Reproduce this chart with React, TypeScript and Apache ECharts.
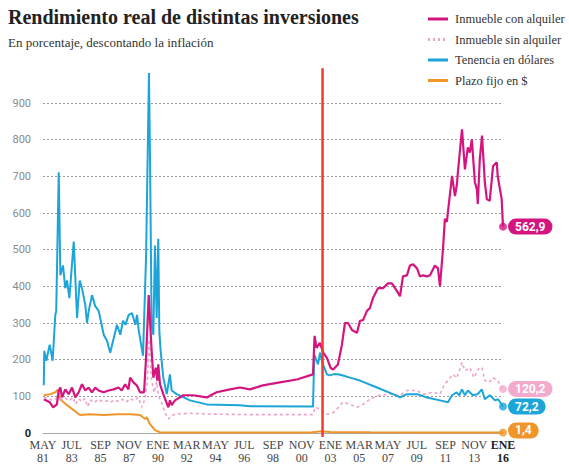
import React, { useEffect, useRef } from "react";
import * as echarts from "echarts";

// ---- DATA (decimal year, value in %) ----
const START = 1981 + 4 / 12; // MAY 81
const tickLabels = [
  "MAY\n81", "JUL\n83", "SEP\n85", "NOV\n87", "ENE\n90", "MAR\n92", "MAY\n94", "JUL\n96", "SEP\n98",
  "NOV\n00", "ENE\n03", "MAR\n05", "MAY\n07", "JUL\n09", "SEP\n11", "NOV\n13", "ENE\n16",
];
const yTicks = [0, 100, 200, 300, 400, 500, 600, 700, 800, 900];
const redLineDate = 2002.4;

const conAlquiler: [number, number][] = [
  [1981.39, 92], [1981.84, 84], [1982.1, 70], [1982.38, 78], [1982.52, 116], [1982.64, 124], [1982.77, 97],
  [1983.01, 119], [1983.27, 106], [1983.52, 124], [1983.77, 97], [1984.02, 111], [1984.27, 133], [1984.52, 116],
  [1984.77, 124], [1985.02, 111], [1985.27, 124], [1985.52, 116], [1985.9, 111], [1986.27, 116], [1986.65, 119],
  [1987.02, 124], [1987.27, 116], [1987.52, 133], [1987.77, 119], [1987.9, 151], [1988.15, 138], [1988.4, 130],
  [1988.65, 111], [1988.95, 111], [1989.1, 205], [1989.3, 376], [1989.52, 224], [1989.65, 151], [1989.83, 178],
  [1989.95, 143], [1990.02, 187], [1990.15, 133], [1990.4, 106], [1990.78, 70], [1990.9, 89], [1991.03, 76],
  [1991.28, 89], [1991.9, 103], [1992.65, 103], [1993.67, 97], [1994.42, 111], [1995.42, 119], [1996.18, 124],
  [1996.93, 119], [1997.9, 130], [1999.18, 138], [2000.46, 146], [2001.68, 160], [2001.8, 265], [2001.95, 232],
  [2002.2, 246], [2002.45, 219], [2002.73, 205], [2003.0, 178], [2003.2, 173], [2003.56, 187], [2003.86, 241],
  [2004.09, 300], [2004.32, 300], [2004.62, 281], [2004.99, 273], [2005.22, 306], [2005.45, 308], [2005.75, 333],
  [2005.97, 341], [2006.2, 368], [2006.58, 395], [2006.96, 395], [2007.33, 408], [2007.63, 408], [2008.01, 387],
  [2008.24, 373], [2008.46, 427], [2008.76, 430], [2008.99, 457], [2009.22, 460], [2009.52, 449], [2009.74, 427],
  [2009.97, 430], [2010.27, 427], [2010.5, 430], [2010.87, 457], [2011.1, 449], [2011.25, 400], [2011.48, 503],
  [2011.62, 584], [2011.77, 576], [2011.85, 603], [2012.16, 701], [2012.38, 646], [2012.53, 679], [2012.6, 711],
  [2012.91, 828], [2013.13, 719], [2013.35, 779], [2013.5, 765], [2013.65, 801], [2013.88, 684], [2014.03, 665],
  [2014.1, 625], [2014.25, 746], [2014.42, 811], [2014.63, 684], [2014.78, 638], [2015.0, 633], [2015.25, 728],
  [2015.53, 738], [2015.6, 701], [2015.77, 665], [2015.9, 638], [2016.0, 562.9],
];

const sinAlquiler: [number, number][] = [
  [1981.39, 98], [1981.7, 95], [1982.0, 90], [1982.3, 93], [1982.52, 98], [1982.8, 90], [1983.0, 95],
  [1983.3, 88], [1983.6, 97], [1983.8, 78], [1984.0, 93], [1984.3, 86], [1984.5, 95], [1984.7, 72],
  [1984.9, 90], [1985.2, 83], [1985.5, 92], [1985.8, 86], [1986.1, 88], [1986.4, 83], [1986.7, 90],
  [1987.0, 86], [1987.3, 92], [1987.6, 84], [1987.9, 94], [1988.2, 88], [1988.5, 97], [1988.8, 70],
  [1989.0, 92], [1989.2, 140], [1989.32, 255], [1989.5, 150], [1989.7, 110], [1989.9, 140], [1990.05, 100],
  [1990.3, 80], [1990.6, 50], [1990.8, 38], [1991.0, 48], [1991.5, 52], [1992.5, 54], [1993.5, 52],
  [1995.0, 51], [1997.0, 50], [1999.0, 50], [2001.68, 50], [2001.85, 70], [2002.2, 65], [2002.7, 51],
  [2003.19, 55], [2003.6, 70], [2003.94, 84], [2004.47, 78], [2004.99, 70], [2005.45, 78], [2005.97, 92],
  [2006.7, 103], [2007.5, 106], [2008.24, 103], [2008.76, 116], [2009.5, 116], [2009.97, 106], [2010.7, 111],
  [2011.25, 106], [2011.6, 133], [2011.85, 143], [2012.23, 160], [2012.5, 150], [2012.76, 175], [2012.91, 192],
  [2013.13, 170], [2013.5, 178], [2013.8, 151], [2014.2, 178], [2014.42, 178], [2014.63, 143], [2014.95, 138],
  [2015.25, 151], [2015.6, 143], [2015.77, 133], [2016.0, 120.2],
];

const tenenciaDolares: [number, number][] = [
  [1981.39, 130], [1981.43, 224], [1981.58, 197], [1981.84, 241], [1982.06, 197], [1982.26, 322], [1982.33, 333],
  [1982.52, 711], [1982.64, 430], [1982.84, 457], [1983.01, 395], [1983.14, 416], [1983.32, 368], [1983.65, 522],
  [1983.9, 314], [1984.1, 416], [1984.27, 395], [1984.52, 349], [1984.65, 300], [1984.78, 333], [1985.03, 376],
  [1985.27, 346], [1985.53, 333], [1985.91, 268], [1986.16, 251], [1986.4, 219], [1986.61, 251], [1986.91, 295],
  [1987.16, 268], [1987.36, 306], [1987.54, 295], [1987.79, 322], [1988.04, 327], [1988.29, 295], [1988.42, 322],
  [1988.55, 279], [1988.87, 211], [1989.1, 480], [1989.32, 982], [1989.4, 746], [1989.52, 295], [1989.65, 268],
  [1989.77, 511], [1989.9, 314], [1990.02, 530], [1990.1, 279], [1990.2, 224], [1990.4, 151], [1990.66, 106],
  [1990.9, 160], [1991.03, 116], [1991.41, 106], [1992.41, 89], [1993.67, 78], [1996.18, 76], [1996.93, 73],
  [2001.68, 72], [2001.78, 214], [2002.06, 187], [2002.21, 219], [2002.43, 187], [2002.73, 160], [2002.96, 157],
  [2003.19, 160], [2003.56, 160], [2003.94, 157], [2004.47, 151], [2005.22, 143], [2006.5, 124], [2007.71, 106],
  [2008.24, 97], [2008.76, 106], [2009.52, 106], [2010.27, 97], [2011.25, 89], [2011.85, 84], [2012.16, 103],
  [2012.5, 111], [2012.7, 103], [2012.91, 119], [2013.13, 103], [2013.35, 116], [2013.73, 103], [2014.1, 106],
  [2014.4, 119], [2014.63, 92], [2015.0, 103], [2015.4, 89], [2015.63, 92], [2016.0, 72.2],
];

const plazoFijo: [number, number][] = [
  [1981.39, 103], [1981.88, 106], [1982.26, 111], [1982.45, 118], [1982.64, 92], [1983.14, 76], [1983.65, 62],
  [1984.12, 49], [1984.9, 51], [1985.91, 49], [1986.91, 51], [1987.9, 51], [1988.65, 49], [1989.04, 38],
  [1989.15, 43], [1989.4, 24], [1989.77, 8], [1990.15, 1.5], [1991.0, 1.5], [1995.0, 1.5], [2001.5, 1.5],
  [2002.3, 4.5], [2003.0, 3], [2006.0, 2], [2010.0, 1.5], [2016.0, 1.4],
];

const toIdx = (yr: number) => (yr - START) * 12;
const conv = (arr: [number, number][]) => arr.map(([y, v]) => [toIdx(y), v]);
const fmt = (v: number) => v.toFixed(1).replace(".", ",");

const C_PINK = "#d5157f";
const C_PINK_L = "#eba3c8";
const C_PINK_PILL = "#f3aacd";
const C_BLUE = "#1ba5d8";
const C_ORANGE = "#f0952a";
const SERIF = "'Liberation Serif', 'DejaVu Serif', serif";
const SANS = "Roboto, 'Noto Sans', sans-serif";

export default function App() {
  const ref = useRef<HTMLDivElement>(null);
  useEffect(() => {
    document.body.style.margin = "0";
    const chart = echarts.init(ref.current!, null, { renderer: "svg" });

    const mkEndLabel = (bg: string, dy: number) => ({
      show: true,
      formatter: (p: any) => fmt(p.value[1]),
      backgroundColor: bg,
      color: "#fff",
      fontFamily: SANS,
      fontWeight: "bold",
      fontSize: 12,
      padding: [2, 7, 2, 7],
      borderRadius: 9,
      distance: 5,
      offset: [0, dy],
    });

    const lineBase = {
      type: "line",
      showSymbol: false,
      symbol: "none",
      clip: false,
      smooth: false,
    };

    const series: any[] = [
      {
        ...lineBase,
        name: "Plazo fijo en $",
        data: conv(plazoFijo),
        lineStyle: { color: C_ORANGE, width: 2 },
        itemStyle: { color: C_ORANGE },
        endLabel: mkEndLabel(C_ORANGE, -2),
        z: 2,
      },
      {
        ...lineBase,
        name: "Inmueble sin alquiler",
        data: conv(sinAlquiler),
        lineStyle: { color: C_PINK_L, width: 1.6, type: [3, 3] },
        itemStyle: { color: C_PINK_L },
        endLabel: mkEndLabel(C_PINK_PILL, 0),
        z: 3,
      },
      {
        ...lineBase,
        name: "Tenencia en dólares",
        data: conv(tenenciaDolares),
        lineStyle: { color: C_BLUE, width: 2 },
        itemStyle: { color: C_BLUE },
        endLabel: mkEndLabel(C_BLUE, 0),
        z: 4,
      },
      {
        ...lineBase,
        name: "Inmueble con alquiler",
        data: conv(conAlquiler),
        lineStyle: { color: C_PINK, width: 2.2 },
        itemStyle: { color: C_PINK },
        endLabel: mkEndLabel(C_PINK, 0),
        z: 5,
      },
      {
        type: "scatter",
        symbolSize: 8,
        clip: false,
        z: 6,
        data: [
          { value: conv(plazoFijo).slice(-1)[0], itemStyle: { color: C_ORANGE } },
          { value: conv(sinAlquiler).slice(-1)[0], itemStyle: { color: C_PINK_PILL } },
          { value: conv(tenenciaDolares).slice(-1)[0], itemStyle: { color: C_BLUE } },
          { value: conv(conAlquiler).slice(-1)[0], itemStyle: { color: C_PINK } },
        ],
      },
    ];

    const legendItems = [
      { name: "Inmueble con alquiler", color: C_PINK, dash: null },
      { name: "Inmueble sin alquiler", color: C_PINK_L, dash: [2, 3] },
      { name: "Tenencia en dólares", color: C_BLUE, dash: null },
      { name: "Plazo fijo en $", color: C_ORANGE, dash: null },
    ];

    const baseGraphic: any[] = [
      {
        type: "text",
        left: 8,
        top: 7,
        style: {
          text: "Rendimiento real de distintas inversiones",
          font: `bold 20px ${SERIF}`,
          fill: "#222",
        },
      },
      {
        type: "text",
        left: 8,
        top: 36,
        style: {
          text: "En porcentaje, descontando la inflación",
          font: `13px ${SERIF}`,
          fill: "#333",
        },
      },
    ];
    legendItems.forEach((it, i) => {
      const y = 19 + i * 20.5;
      baseGraphic.push({
        type: "line",
        shape: { x1: 428, y1: y, x2: 448, y2: y },
        style: { stroke: it.color, lineWidth: 3, lineDash: it.dash || undefined },
      });
      baseGraphic.push({
        type: "text",
        x: 455,
        y: y,
        style: {
          text: it.name,
          font: `12.5px ${SERIF}`,
          fill: "#333",
          verticalAlign: "middle",
        },
      });
    });

    chart.setOption({
      animation: false,
      grid: { left: 43, right: 66, top: 103, bottom: 28 },
      xAxis: {
        type: "value",
        min: 0,
        max: 416,
        interval: 26,
        axisLine: { show: true, lineStyle: { color: "#a8a8a8", width: 1.2 } },
        axisTick: { show: false },
        splitLine: { show: false },
        axisLabel: {
          margin: 5,
          color: "#444",
          fontFamily: SERIF,
          fontSize: 12,
          lineHeight: 13,
          formatter: (v: number) => {
            const i = Math.round(v / 26);
            const t = tickLabels[i] || "";
            if (i === tickLabels.length - 1) {
              return t.split("\n").map((s) => `{b|${s}}`).join("\n");
            }
            return t;
          },
          rich: {
            b: { fontWeight: "bold", color: "#222", fontFamily: SERIF, fontSize: 12, lineHeight: 13 },
          },
        },
      },
      yAxis: {
        type: "value",
        min: yTicks[0],
        max: yTicks[yTicks.length - 1],
        interval: 100,
        axisLine: { show: false },
        axisTick: { show: false },
        splitLine: { show: true, lineStyle: { color: "#9a9a9a", width: 1, type: [2, 2] } },
        axisLabel: {
          margin: 12,
          color: "#8a8a8a",
          fontFamily: SANS,
          fontSize: 11,
          formatter: (v: number) => (v === 0 ? "{z|0}" : String(v)),
          rich: { z: { fontWeight: "bold", color: "#222", fontFamily: SANS, fontSize: 11 } },
        },
      },
      series,
      graphic: baseGraphic,
    });

    const top = chart.convertToPixel({ gridIndex: 0 } as any, [toIdx(redLineDate), 995]) as number[];
    const bot = chart.convertToPixel({ gridIndex: 0 } as any, [toIdx(redLineDate), 0]) as number[];
    chart.setOption({
      graphic: [
        ...baseGraphic,
        {
          type: "line",
          z: 100,
          shape: { x1: top[0], y1: top[1], x2: bot[0], y2: bot[1] + 4 },
          style: { stroke: "#f23b2a", lineWidth: 2.5 },
        },
      ],
    });

    return () => chart.dispose();
  }, []);
  return <div ref={ref} style={{ width: 569, height: 464 }} />;
}
